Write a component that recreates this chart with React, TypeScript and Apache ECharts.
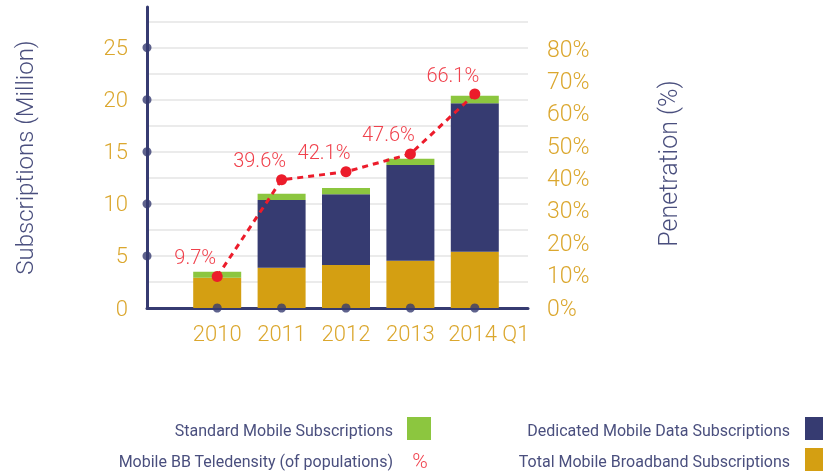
import React, { useEffect, useRef } from 'react';
import * as echarts from 'echarts';

// ---- data ----
const categories = ['2010', '2011', '2012', '2013', '2014 Q1'];
const totalMobileBroadband = [2.9, 3.87, 4.13, 4.54, 5.4];
const dedicatedMobileData = [0, 6.5, 6.8, 9.2, 14.27];
const standardMobile = [0.58, 0.6, 0.6, 0.58, 0.7];
const penetration = [9.7, 39.6, 42.1, 47.6, 66.1];
const leftTickLabels = [0, 5, 10, 15, 20, 25];
const rightTickLabels = [0, 10, 20, 30, 40, 50, 60, 70, 80];

const NAVY = '#363b71';
const GOLD = '#d49f12';
const GREEN = '#8cc63f';
const RED = '#ec1c2b';
const LABEL_RED = '#f0414c';
const TICK_GOLD = '#dba72e';
const TEXT_NAVY = '#4a4f7e';
const GRID = '#e4e4e4';
const FONT = 'Roboto';

const LEFT_MAX = 28.9;
const RIGHT_MAX = 93;

export default function App() {
  const ref = useRef<HTMLDivElement>(null);
  useEffect(() => {
    if (!ref.current) return;
    const chart = echarts.init(ref.current, undefined, { renderer: 'svg' });
    const legendText = (text: string, x: number, y: number) => ({
      type: 'text',
      x,
      y,
      style: {
        text,
        fill: TEXT_NAVY,
        font: `400 16px ${FONT}`,
        align: 'right',
        verticalAlign: 'middle',
      },
    });
    // last label: keep the year centred under its bar, suffix trailing to the right
    const axisData = categories.map((c, i) =>
      i === categories.length - 1 ? { value: c, textStyle: { padding: [0, 0, 0, 28] } } : c
    );
    chart.setOption({
      animation: false,
      textStyle: { fontFamily: FONT },
      grid: [
        { left: 185, right: 316, top: 7, bottom: 166 },
        { left: 147, right: 295, top: 7, bottom: 166 },
      ],
      xAxis: [
        {
          type: 'category',
          gridIndex: 0,
          data: axisData,
          axisLine: { show: false },
          axisTick: { show: false },
          axisLabel: { interval: 0, color: TICK_GOLD, fontSize: 22, fontWeight: 300, fontFamily: FONT, margin: 14 },
        },
        {
          type: 'value',
          gridIndex: 1,
          min: 0,
          max: 1,
          axisLine: { show: true, onZero: false, lineStyle: { color: NAVY, width: 3 } },
          axisTick: { show: false },
          axisLabel: { show: false },
          splitLine: { show: false },
        },
      ],
      yAxis: [
        { type: 'value', gridIndex: 0, min: 0, max: LEFT_MAX, show: false },
        {
          type: 'value',
          gridIndex: 0,
          position: 'right',
          min: 0,
          max: RIGHT_MAX,
          interval: 10,
          axisLine: { show: false },
          axisTick: { show: false },
          splitLine: { show: false },
          axisLabel: {
            formatter: (v: number) => (rightTickLabels.includes(v) ? `${v}%` : ''),
            color: TICK_GOLD,
            fontSize: 23,
            fontWeight: 300,
            fontFamily: FONT,
            margin: 40,
          },
          name: 'Penetration (%)',
          nameLocation: 'middle',
          nameRotate: 90,
          nameGap: 149,
          nameTextStyle: {
            color: TEXT_NAVY,
            fontSize: 25,
            fontWeight: 300,
            fontFamily: FONT,
            padding: [0, 12, 0, 0],
          },
        },
        {
          type: 'value',
          gridIndex: 1,
          min: 0,
          max: LEFT_MAX,
          interval: 2.5,
          axisLine: { show: true, lineStyle: { color: NAVY, width: 3 } },
          axisTick: { show: false },
          axisLabel: {
            formatter: (v: number) => (leftTickLabels.includes(v) ? String(v) : ''),
            color: TICK_GOLD,
            fontSize: 22,
            fontWeight: 300,
            fontFamily: FONT,
            margin: 19,
          },
          splitLine: { show: true, showMinLine: false, showMaxLine: false, lineStyle: { color: GRID, width: 1.5 } },
          name: 'Subscriptions (Million)',
          nameLocation: 'middle',
          nameRotate: 90,
          nameGap: 110,
          nameTextStyle: { color: TEXT_NAVY, fontSize: 24, fontWeight: 300, fontFamily: FONT },
        },
      ],
      series: [
        {
          name: 'Total Mobile Broadband Subscriptions',
          type: 'bar',
          stack: 'subs',
          xAxisIndex: 0,
          yAxisIndex: 0,
          barWidth: 48,
          itemStyle: { color: GOLD },
          data: totalMobileBroadband,
        },
        {
          name: 'Dedicated Mobile Data Subscriptions',
          type: 'bar',
          stack: 'subs',
          xAxisIndex: 0,
          yAxisIndex: 0,
          barWidth: 48,
          itemStyle: { color: NAVY },
          data: dedicatedMobileData,
        },
        {
          name: 'Standard Mobile Subscriptions',
          type: 'bar',
          stack: 'subs',
          xAxisIndex: 0,
          yAxisIndex: 0,
          barWidth: 48,
          itemStyle: { color: GREEN },
          data: standardMobile,
        },
        {
          name: 'Mobile BB Teledensity (of populations)',
          type: 'line',
          xAxisIndex: 0,
          yAxisIndex: 1,
          z: 5,
          data: penetration,
          symbol: 'circle',
          symbolSize: 11,
          itemStyle: { color: RED },
          lineStyle: { color: RED, width: 3, type: [6, 5] },
          label: {
            show: true,
            position: 'top',
            offset: [-22, 0],
            distance: 4,
            formatter: '{c}%',
            color: LABEL_RED,
            fontSize: 20,
            fontWeight: 300,
            fontFamily: FONT,
          },
        },
        {
          type: 'scatter',
          xAxisIndex: 0,
          yAxisIndex: 0,
          clip: false,
          z: 6,
          symbolSize: 9,
          itemStyle: { color: NAVY },
          data: categories.map(() => 0),
        },
        {
          type: 'scatter',
          xAxisIndex: 1,
          yAxisIndex: 2,
          clip: false,
          z: 6,
          symbolSize: 9,
          itemStyle: { color: NAVY },
          data: leftTickLabels.filter((v) => v > 0).map((v) => [0, v]),
        },
      ],
      graphic: [
        legendText('Standard Mobile Subscriptions', 393, 430),
        { type: 'rect', shape: { x: 407, y: 417, width: 24, height: 23 }, style: { fill: GREEN } },
        legendText('Mobile BB Teledensity (of populations)', 393, 461),
        {
          type: 'text',
          x: 420,
          y: 461,
          style: { text: '%', fill: LABEL_RED, font: `300 21px ${FONT}`, align: 'center', verticalAlign: 'middle' },
        },
        legendText('Dedicated Mobile Data Subscriptions', 790, 430),
        { type: 'rect', shape: { x: 805, y: 417, width: 24, height: 23 }, style: { fill: NAVY } },
        legendText('Total Mobile Broadband Subscriptions', 790, 461),
        { type: 'rect', shape: { x: 805, y: 448, width: 24, height: 23 }, style: { fill: GOLD } },
      ],
    });
    return () => chart.dispose();
  }, []);
  return <div ref={ref} style={{ position: 'fixed', left: 0, top: 0, width: 823, height: 474 }} />;
}
